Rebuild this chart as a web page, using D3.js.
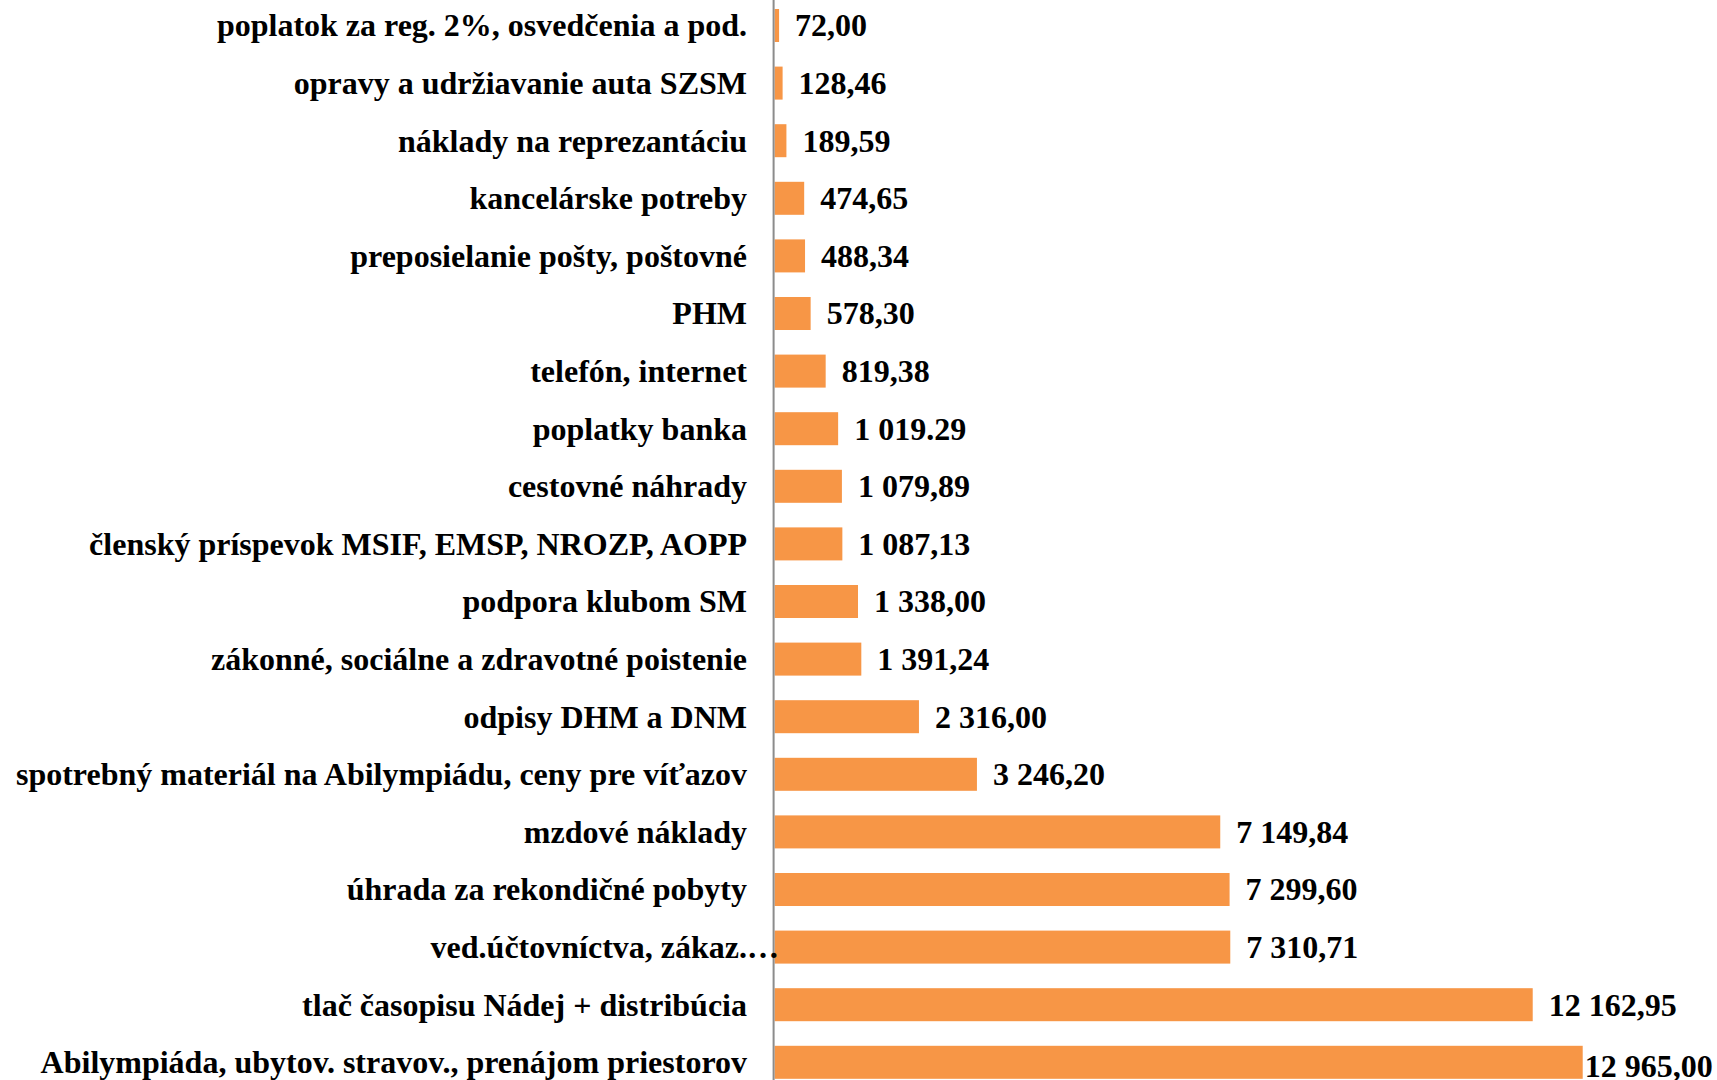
<!DOCTYPE html>
<html>
<head>
<meta charset="utf-8">
<script src="https://cdn.jsdelivr.net/npm/d3@7"></script>
<style>
  html, body { margin: 0; padding: 0; background: #fff; overflow: hidden; }
  svg { display: block; }
</style>
</head>
<body>
<script>
const categories = [
  "poplatok za reg. 2%, osvedčenia a pod.",
  "opravy a udržiavanie auta SZSM",
  "náklady na reprezantáciu",
  "kancelárske potreby",
  "preposielanie pošty, poštovné",
  "PHM",
  "telefón, internet",
  "poplatky banka",
  "cestovné náhrady",
  "členský príspevok MSIF, EMSP, NROZP, AOPP",
  "podpora klubom SM",
  "zákonné, sociálne a zdravotné poistenie",
  "odpisy DHM a DNM",
  "spotrebný materiál na Abilympiádu, ceny pre víťazov",
  "mzdové náklady",
  "úhrada za rekondičné pobyty",
  "ved.účtovníctva, zákaz.",
  "tlač časopisu Nádej + distribúcia",
  "Abilympiáda, ubytov. stravov., prenájom priestorov"
];
const truncated = [false,false,false,false,false,false,false,false,false,false,false,false,false,false,false,false,true,false,false];
const values = [72.00, 128.46, 189.59, 474.65, 488.34, 578.30, 819.38, 1019.29, 1079.89, 1087.13, 1338.00, 1391.24, 2316.00, 3246.20, 7149.84, 7299.60, 7310.71, 12162.95, 12965.00];
const valueLabels = ["72,00","128,46","189,59","474,65","488,34","578,30","819,38","1 019.29","1 079,89","1 087,13","1 338,00","1 391,24","2 316,00","3 246,20","7 149,84","7 299,60","7 310,71","12 162,95","12 965,00"];

const W = 1717, H = 1080;
const svg = d3.select("body").append("svg").attr("width", W).attr("height", H);

const x = d3.scaleLinear().domain([0, 14000]).range([774.6, 774.6 + 14000 * 0.06233]);
const y = d3.scaleBand().domain(categories).range([-3.3, 1091.1]).paddingInner(0.427).paddingOuter(0.2135);

const font = "Liberation Serif, Times New Roman, serif";
const fs = 32;

svg.append("g").selectAll("rect").data(categories).join("rect")
  .attr("x", x(0))
  .attr("y", d => y(d))
  .attr("width", (d, i) => x(values[i]) - x(0))
  .attr("height", y.bandwidth())
  .attr("fill", "#F79646");

// axis line
svg.append("line")
  .attr("x1", x(0) - 1).attr("x2", x(0) - 1)
  .attr("y1", 0).attr("y2", H)
  .attr("stroke", "#8c8c8c").attr("stroke-width", 2);

// category labels
const lab = svg.append("g").style("font-family", font).attr("font-weight", "bold").attr("font-size", fs).attr("fill", "#000");
categories.forEach((c, i) => {
  const cy = y(c) + y.bandwidth() / 2;
  lab.append("text").attr("x", 747).attr("y", cy).attr("dy", "0.34em").attr("text-anchor", "end").text(c);
  if (truncated[i]) {
    lab.append("text").attr("x", 747).attr("y", cy).attr("dy", "0.34em").attr("text-anchor", "start").text("…");
  }
});

// value labels
const vl = svg.append("g").style("font-family", font).attr("font-weight", "bold").attr("font-size", fs).attr("fill", "#000");
categories.forEach((c, i) => {
  const cy = y(c) + y.bandwidth() / 2;
  const t = vl.append("text").attr("y", cy).attr("dy", "0.34em").text(valueLabels[i]);
  const w = t.node().getComputedTextLength();
  let px = x(values[i]) + 16;
  let shift = 0;
  if (px + w > W - 4) { px = x(values[i]) + 2; shift = 4; }
  t.attr("x", px).attr("y", cy + shift);
});
</script>
</body>
</html>
